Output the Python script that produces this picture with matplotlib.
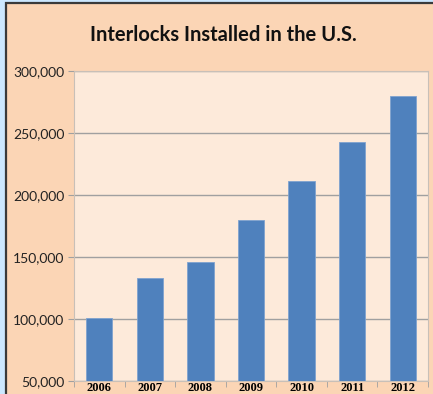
import matplotlib.pyplot as plt
import numpy as np
from matplotlib.patches import Rectangle
from matplotlib.ticker import FuncFormatter, FixedLocator

years = ['2006', '2007', '2008', '2009', '2010', '2011', '2012']
installed = [101000, 133000, 146000, 180000, 211000, 243000, 280000]
yticks = [50000, 100000, 150000, 200000, 250000, 300000]

fig = plt.figure(figsize=(4.33, 3.94), dpi=100)
fig.patch.set_facecolor('#CCE8FF')

# chart frame on top of the blue window background
frame = Rectangle((5.5 / 433, -0.05), 1.0, 1 - 3.5 / 394 + 0.05, transform=fig.transFigure,
                  facecolor='#FBD5B5', edgecolor='#3a3a3a', linewidth=1.6, zorder=-1)
fig.patches.append(frame)

ax = fig.add_axes([74 / 433, 1 - 381 / 394, (428 - 74) / 433, (381 - 71) / 394])
ax.set_zorder(2)
ax.set_facecolor('#FDEADA')

x = np.arange(len(years))
ax.bar(x, installed, width=0.52, color='#4F81BD', edgecolor='#7FA3CF', linewidth=0.6, zorder=3)

ax.set_ylim(50000, 300000)
ax.set_xlim(-0.5, len(years) - 0.5)
ax.set_yticks(yticks)
ax.yaxis.set_major_formatter(FuncFormatter(lambda v, p: f'{int(v):,}'))
ax.grid(axis='y', color='#A0A0A0', linewidth=1, zorder=1)
ax.set_axisbelow(True)

ax.set_xticks(x)
ax.set_xticklabels(years, fontfamily='Liberation Serif', fontweight='bold', fontsize=9)
ax.xaxis.set_minor_locator(FixedLocator(np.arange(-0.5, len(years), 1.0)))
ax.tick_params(axis='x', which='major', length=0, pad=1)
ax.tick_params(axis='x', which='minor', length=4, color='#A0A0A0', direction='out')
ax.tick_params(axis='y', length=4, color='#A0A0A0', pad=3, labelsize=10, labelcolor='#222222')
for lbl in ax.get_yticklabels():
    lbl.set_fontfamily('Lato')

for side in ['top', 'right', 'left', 'bottom']:
    ax.spines[side].set_color('#C8C0B8')
    ax.spines[side].set_linewidth(0.8)

fig.text(0.515, 1 - 35 / 394, 'Interlocks Installed in the U.S.', ha='center', va='center',
         fontsize=14.5, fontweight='bold', fontfamily='Lato', color='#111111')

fig.savefig('out.png', dpi=100, facecolor=fig.get_facecolor())
